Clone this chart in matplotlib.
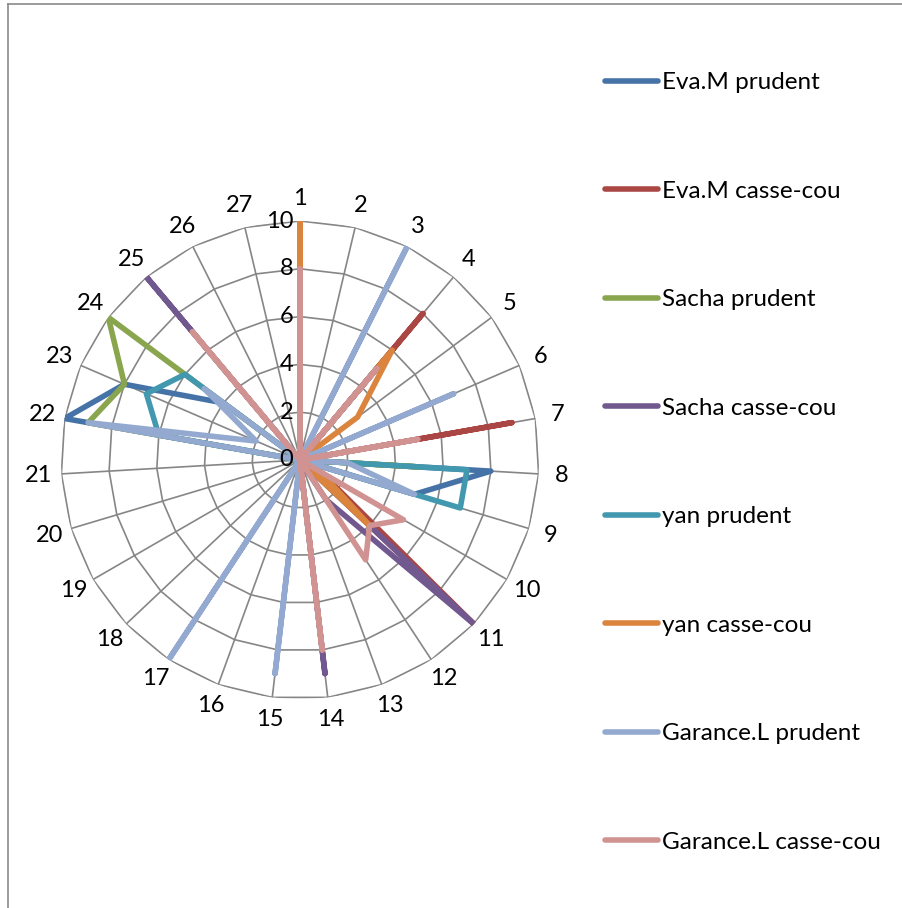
import numpy as np
import matplotlib.pyplot as plt
from matplotlib.lines import Line2D

plt.rcParams['font.family'] = ['Lato', 'DejaVu Sans']

# Categories 1..27
categories = [str(i) for i in range(1, 28)]

# Series values (one per category)
eva_prudent = [0, 0, 0, 0, 0, 0, 0, 8, 5, 0, 0, 0, 0, 0, 0, 0, 0, 0, 0, 0, 0, 10, 8, 4, 0, 0, 0]
eva_casse = [0, 0, 0, 8, 0, 0, 9, 0, 0, 1, 10, 0, 0, 0, 0, 0, 0, 0, 0, 0, 0, 0, 0, 0, 0, 0, 0]
sacha_prudent = [0, 0, 0, 0, 0, 0, 0, 5, 0, 0, 0, 0, 0, 0, 0, 0, 0, 0, 0, 0, 0, 9, 8, 10, 0, 0, 0]
sacha_casse = [0, 0, 0, 5, 0, 0, 0, 0, 0, 0, 10, 2, 0, 9, 0, 0, 0, 0, 0, 0, 0, 0, 0, 0, 10, 0, 0]
yan_prudent = [0, 0, 0, 0, 0, 0, 0, 7, 7, 0, 0, 0, 0, 0, 0, 0, 0, 0, 0, 0, 0, 6, 7, 6, 0, 0, 0]
yan_casse = [10, 0, 0, 6, 3, 0, 0, 0, 0, 1, 4, 0, 0, 0, 0, 0, 0, 0, 0, 0, 0, 0, 0, 0, 0, 0, 0]
garance_prudent = [0, 0, 10, 0, 0, 7, 0, 2, 5, 0, 0, 0, 0, 0, 9, 0, 10, 0, 0, 0, 0, 9, 2, 5, 0, 0, 0]
garance_casse = [8, 0, 0, 5, 0, 0, 5, 0, 0, 5, 4, 5, 0, 8, 0, 0, 0, 0, 0, 0, 0, 0, 0, 0, 7, 0, 0]

series_names = ['Eva.M prudent', 'Eva.M casse-cou', 'Sacha prudent', 'Sacha casse-cou',
                'yan prudent', 'yan casse-cou', 'Garance.L prudent', 'Garance.L casse-cou']
series = [eva_prudent, eva_casse, sacha_prudent, sacha_casse,
          yan_prudent, yan_casse, garance_prudent, garance_casse]
colors = ['#4572A7', '#AA4643', '#89A54E', '#71588F',
          '#4198AF', '#DB843D', '#93A9CF', '#D19392']

rticks = [0, 2, 4, 6, 8, 10]

n = len(categories)
theta = np.arange(n) * 2 * np.pi / n
theta_closed = np.append(theta, theta[0])

fig = plt.figure(figsize=(9.02, 9.08), dpi=100)
ax = fig.add_axes([61 / 902, 209 / 908, 478 / 902, 478 / 908], projection='polar')
ax.set_theta_zero_location('N')
ax.set_theta_direction(-1)
ax.set_ylim(0, 10)
ax.grid(False)
ax.spines['polar'].set_visible(False)
ax.set_xticks([])
ax.set_yticks([])
ax.patch.set_alpha(0)

# spider-web grid
grid_c = '#868686'
for r in rticks[1:]:
    ax.plot(theta_closed, [r] * (n + 1), color=grid_c, lw=1.2, zorder=1)
for t in theta:
    ax.plot([t, t], [0, 10], color=grid_c, lw=1.2, zorder=1)

# series
for vals, name, c in zip(series, series_names, colors):
    v = np.append(vals, vals[0])
    ax.plot(theta_closed, v, color=c, lw=4.0, label=name, zorder=3,
            solid_joinstyle='round', solid_capstyle='round')

# category labels
for t, lab in zip(theta, categories):
    ax.text(t, 10.95, lab, ha='center', va='center', fontsize=17)

# radial tick labels
for r in rticks:
    ax.annotate(str(r), xy=(0, r), xytext=(-5, 0), textcoords='offset points',
                ha='right', va='center', fontsize=17, zorder=4)

handles = [Line2D([0], [0], color=c, lw=4.0, solid_capstyle='round') for c in colors]
fig.legend(handles, series_names, loc='upper left', bbox_to_anchor=(605 / 902, 1 - 72 / 908),
           frameon=False, fontsize=17.5, handlelength=2.2, handletextpad=0.15,
           labelspacing=3.6, borderpad=0, borderaxespad=0)

# chart border
fig.add_artist(Line2D([8 / 902, 8 / 902], [0, 1 - 4 / 908], color='#8a8a8a', lw=1.2))
fig.add_artist(Line2D([8 / 902, 1], [1 - 4 / 908, 1 - 4 / 908], color='#8a8a8a', lw=1.2))

fig.savefig('out.png', dpi=100)
